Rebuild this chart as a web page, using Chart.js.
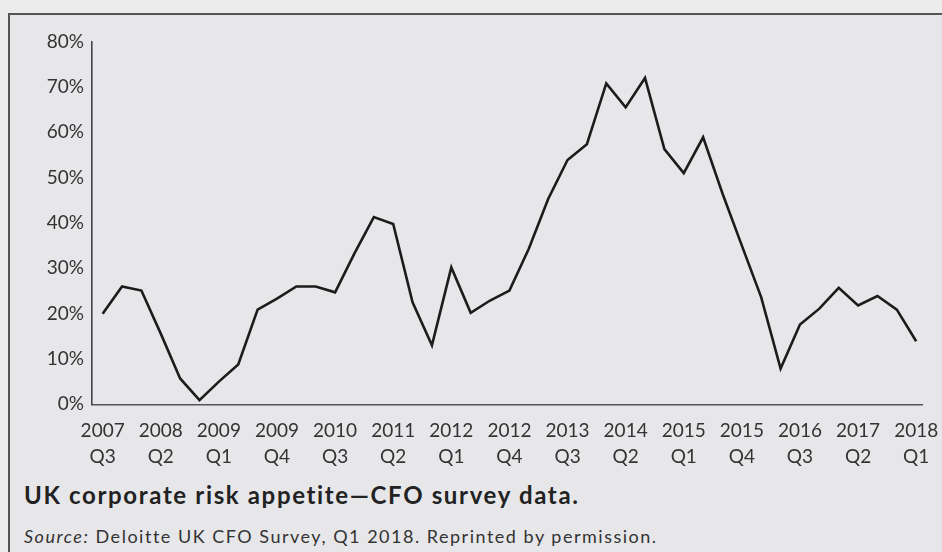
<!DOCTYPE html>
<html><head><meta charset="utf-8">
<script src="https://cdn.jsdelivr.net/npm/chart.js@4"></script>
<style>
html,body{margin:0;padding:0;width:942px;height:552px;overflow:hidden;background:#ececec;font-family:Lato,"Noto Sans",sans-serif;}
#frame{position:absolute;left:8px;top:13px;width:960px;height:560px;border-top:2px solid #555;border-left:2px solid #555;background:#e7e7ea;}
#wrap{position:absolute;left:0;top:0;width:960px;height:480px;}
#title{position:absolute;left:24px;top:481px;font-weight:700;font-size:24px;color:#222;white-space:nowrap;line-height:28px;}
#source{position:absolute;left:24px;top:524px;font-size:18px;color:#333;white-space:nowrap;line-height:24px;}
</style></head><body>
<div id="frame"></div>
<div id="wrap"><canvas id="c" width="960" height="480"></canvas></div>
<div id="title">UK corporate risk appetite—CFO survey data.</div>
<div id="source"><i>Source:</i> Deloitte UK CFO Survey, Q1 2018. Reprinted by permission.</div>
<script>
const quarters = [
  "2007 Q3","2007 Q4",
  "2008 Q1","2008 Q2","2008 Q3","2008 Q4",
  "2009 Q1","2009 Q2","2009 Q3","2009 Q4",
  "2010 Q1","2010 Q2","2010 Q3","2010 Q4",
  "2011 Q1","2011 Q2","2011 Q3","2011 Q4",
  "2012 Q1","2012 Q2","2012 Q3","2012 Q4",
  "2013 Q1","2013 Q2","2013 Q3","2013 Q4",
  "2014 Q1","2014 Q2","2014 Q3","2014 Q4",
  "2015 Q1","2015 Q2","2015 Q3","2015 Q4",
  "2016 Q1","2016 Q2","2016 Q3","2016 Q4",
  "2017 Q1","2017 Q2","2017 Q3","2017 Q4",
  "2018 Q1"
];
const riskAppetite = [
  20.0, 26.0,
  25.1, 15.6, 5.7, 0.9,
  5.0, 8.8, 20.9, 23.3,
  26.0, 26.0, 24.7, 33.3,
  41.3, 39.8, 22.5, 13.0,
  30.2, 20.2, 22.9, 25.1,
  34.3, 45.3, 53.9, 57.4,
  70.8, 65.5, 72.0, 56.3,
  51.0, 58.9, 46.5, 35.0,
  23.6, 7.9, 17.6, 21.1,
  25.7, 21.8, 23.9, 20.9,
  13.9
];
const xTickLabels = ["2007 Q3","2008 Q2","2009 Q1","2009 Q4","2010 Q3","2011 Q2","2012 Q1","2012 Q4","2013 Q3","2014 Q2","2015 Q1","2015 Q4","2016 Q3","2017 Q2","2018 Q1"];
const yTickValues = [0,10,20,30,40,50,60,70,80];

const points = riskAppetite.map((v,i)=>({x:i,y:v}));
const tickIdx = xTickLabels.map(l=>quarters.indexOf(l));

new Chart(document.getElementById('c'), {
  type:'line',
  data:{datasets:[{data:points,borderColor:'#1c1c1c',borderWidth:2.6,pointRadius:0,tension:0,fill:false,borderJoinStyle:'miter'}]},
  options:{
    responsive:false, animation:false, devicePixelRatio:1,
    layout:{padding:{top:41.7,right:38,left:0,bottom:0}},
    plugins:{legend:{display:false},tooltip:{enabled:false}},
    scales:{
      x:{type:'linear',min:-0.55,max:42.3,
        afterBuildTicks:s=>{s.ticks=tickIdx.map(v=>({value:v}));},
        afterFit:s=>{s.height=480-404.3;},
        grid:{display:false,drawTicks:false},
        border:{display:true,color:'#555',width:1.6},
        ticks:{autoSkip:false,maxRotation:0,minRotation:0,padding:14,color:'#333',
          font:{family:'Lato',size:19,lineHeight:26/19},
          callback:(v)=>{const q=quarters[Math.round(v)];return q?q.split(' '):'';}}
      },
      y:{min:0,max:80,
        afterBuildTicks:s=>{s.ticks=yTickValues.map(v=>({value:v}));},
        afterFit:s=>{s.width=92;},
        grid:{display:false,drawTicks:false},
        border:{display:true,color:'#444',width:1.6},
        ticks:{padding:8,color:'#333',font:{family:'Lato',size:19},callback:v=>v+'%'}
      }
    }
  }
});

function fitWidth(id, target){
  const el=document.getElementById(id);
  el.style.letterSpacing='0px';
  const n=el.textContent.length;
  const w=el.getBoundingClientRect().width;
  el.style.letterSpacing=((target-w)/n).toFixed(3)+'px';
}
function fitAll(){ fitWidth('title',556); fitWidth('source',633); }
fitAll();
if(document.fonts&&document.fonts.ready){document.fonts.ready.then(fitAll);}
</script>
</body></html>
